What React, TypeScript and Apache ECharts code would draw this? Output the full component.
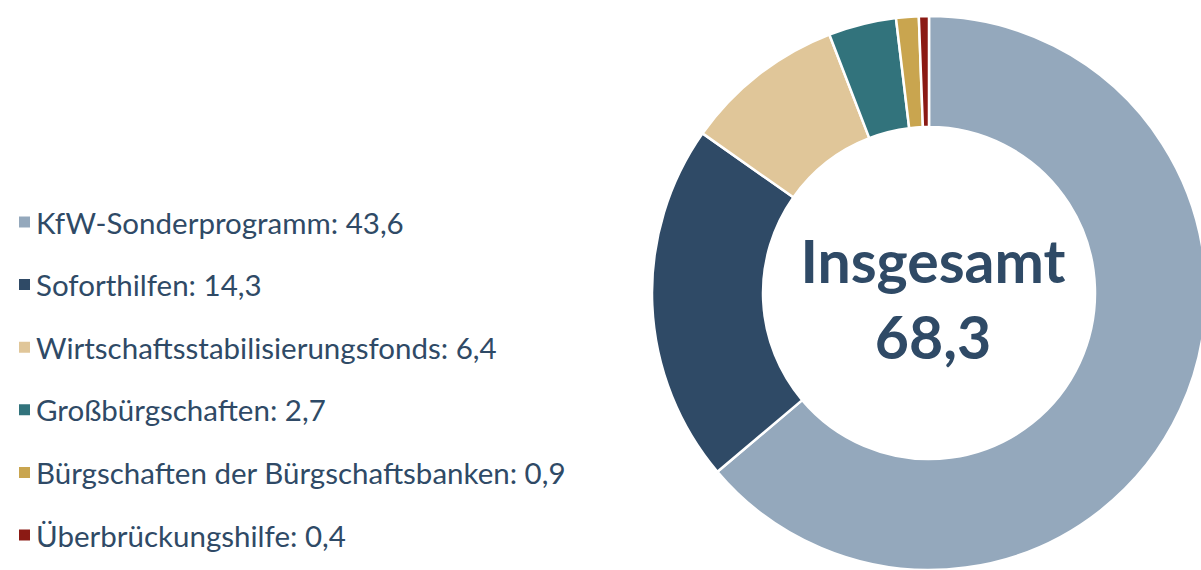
import React, { useEffect, useRef } from "react";
import * as echarts from "echarts";

const categories = [
  "KfW-Sonderprogramm",
  "Soforthilfen",
  "Wirtschaftsstabilisierungsfonds",
  "Großbürgschaften",
  "Bürgschaften der Bürgschaftsbanken",
  "Überbrückungshilfe",
];
const values = [43.6, 14.3, 6.4, 2.7, 0.9, 0.4];
const colors = ["#94A8BC", "#2F4A66", "#E0C699", "#32737C", "#C9A54F", "#8B1A14"];
const totalLabel = "Insgesamt";
const totalValue = "68,3";

const fmt = (v: number) => v.toFixed(1).replace(".", ",");

export default function App() {
  const ref = useRef<HTMLDivElement>(null);
  useEffect(() => {
    document.body.style.margin = "0";
    const chart = echarts.init(ref.current!, undefined, { renderer: "svg" });
    const font = "Lato, 'Open Sans', sans-serif";
    chart.setOption({
      animation: false,
      color: colors,
      legend: {
        orient: "vertical",
        left: 12,
        top: 202,
        icon: "rect",
        itemWidth: 13,
        itemHeight: 13,
        itemGap: 32.6,
        selectedMode: false,
        formatter: (name: string) => {
          const i = categories.indexOf(name);
          return name + ": " + fmt(values[i]);
        },
        textStyle: {
          fontFamily: font,
          fontSize: 29.5,
          lineHeight: 30,
          color: "#2F4A66",
          padding: [0, 0, 0, 0],
        },
      },
      graphic: [
        {
          type: "text",
          x: 933,
          y: 260,
          style: {
            text: totalLabel,
            font: "bold 59px " + font,
            fill: "#2F4A66",
            align: "center",
            verticalAlign: "middle",
          },
        },
        {
          type: "text",
          x: 933,
          y: 336,
          style: {
            text: totalValue,
            font: "bold 59px " + font,
            fill: "#2F4A66",
            align: "center",
            verticalAlign: "middle",
          },
        },
      ],
      series: [
        {
          type: "pie",
          center: [929, 293],
          radius: [166, 277],
          startAngle: 90,
          clockwise: true,
          label: { show: false },
          labelLine: { show: false },
          itemStyle: { borderColor: "#fff", borderWidth: 2.5 },
          emphasis: { disabled: true },
          data: categories.map((c, i) => ({ name: c, value: values[i] })),
        },
      ],
    });
    return () => chart.dispose();
  }, []);
  return <div ref={ref} style={{ width: 1201, height: 570 }} />;
}
